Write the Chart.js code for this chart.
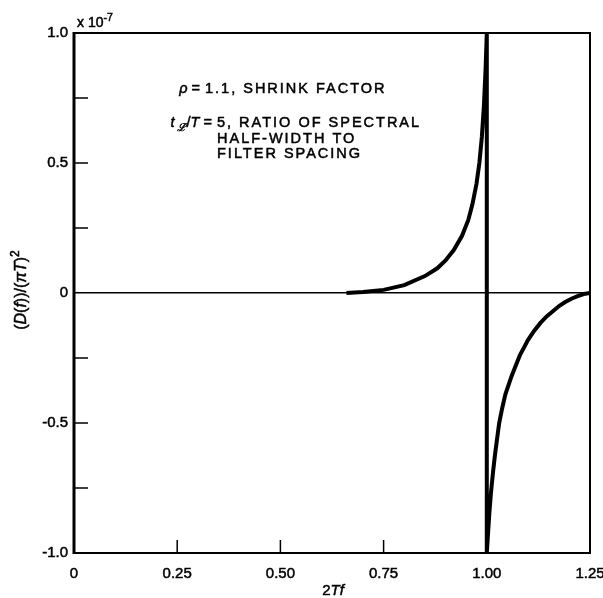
<!DOCTYPE html>
<html>
<head>
<meta charset="utf-8">
<script src="https://cdn.jsdelivr.net/npm/chart.js@4/dist/chart.umd.min.js"></script>
<style>
  html, body { margin: 0; padding: 0; background: #fff; }
  #wrap { width: 603px; height: 598px; }
</style>
</head>
<body>
<div id="wrap"><canvas id="chart" width="603" height="598"></canvas></div>
<script>
// positive branch, rising toward the pole at 2Tf = 1 (values in units of 1e-7)
const freqPos  = [0.66, 0.70, 0.75, 0.80, 0.85, 0.88, 0.90, 0.92, 0.94, 0.955, 0.965, 0.975, 0.982, 0.988, 0.993, 0.997, 1.0];
const ratioPos = [0.0, 0.004, 0.012, 0.03, 0.065, 0.095, 0.125, 0.165, 0.22, 0.28, 0.34, 0.42, 0.50, 0.60, 0.72, 0.86, 1.0];

// negative branch, recovering back to zero
const freqNeg  = [1.0, 1.002, 1.006, 1.01, 1.015, 1.02, 1.025, 1.03, 1.037, 1.045, 1.06, 1.07, 1.08, 1.09, 1.10, 1.115, 1.13, 1.145, 1.16, 1.175, 1.19, 1.205, 1.22, 1.235, 1.25];
const ratioNeg = [-1.0, -0.95, -0.85, -0.77, -0.69, -0.62, -0.56, -0.50, -0.445, -0.39, -0.32, -0.28, -0.24, -0.21, -0.18, -0.145, -0.115, -0.09, -0.07, -0.05, -0.035, -0.022, -0.012, -0.004, 0.0];

const xTicks = [0, 0.25, 0.5, 0.75, 1.0, 1.25];
const xTickLabels = ['0', '0.25', '0.50', '0.75', '1.00', '1.25'];
const yTicks = [-1, -0.5, 0, 0.5, 1];
const yTickLabels = ['-1.0', '-0.5', '0', '0.5', '1.0'];

const FONT = '"Liberation Sans", Arial, Helvetica, sans-serif';

const points = [];
freqPos.forEach((f, i) => points.push({ x: f, y: ratioPos[i] }));
freqNeg.forEach((f, i) => points.push({ x: f, y: ratioNeg[i] }));

// draw a run of text pieces (normal / italic / super / sub) anchored at x
function drawRuns(ctx, runs, x, y, size, align) {
  const fontFor = (r) => {
    const s = r.sup || r.sub ? size * 0.75 : size;
    return (r.italic ? 'italic ' : '') + s + 'px ' + FONT;
  };
  const widthOf = (r) => ctx.measureText(r.t).width + (r.gap || 0);
  let total = 0;
  runs.forEach(r => { ctx.font = fontFor(r); total += widthOf(r); });
  let cx = x;
  if (align === 'center') cx = x - total / 2;
  if (align === 'right') cx = x - total;
  runs.forEach(r => {
    ctx.font = fontFor(r);
    let dy = 0;
    if (r.sup) dy = -size * 0.45;
    if (r.sub) dy = size * 0.3;
    ctx.fillText(r.t, cx, y + dy);
    ctx.strokeText(r.t, cx, y + dy);
    cx += widthOf(r);
  });
}

const decor = {
  id: 'decor',
  afterDraw(chart) {
    const ctx = chart.ctx;
    const a = chart.chartArea;
    const xs = chart.scales.x, ys = chart.scales.y;
    ctx.save();
    ctx.strokeStyle = '#000';
    ctx.fillStyle = '#000';

    // frame
    ctx.lineWidth = 2;
    ctx.strokeRect(a.left, a.top, a.right - a.left, a.bottom - a.top);
    ctx.lineWidth = 3;
    ctx.beginPath();
    ctx.moveTo(a.left, a.top - 1);
    ctx.lineTo(a.left, a.bottom + 1);
    ctx.stroke();

    // inward tick marks
    ctx.lineWidth = 1.5;
    ctx.beginPath();
    xs.ticks.forEach(t => {
      if (t.value <= 0 || t.value >= 1.25) return;
      const px = xs.getPixelForValue(t.value);
      ctx.moveTo(px, a.bottom);
      ctx.lineTo(px, a.bottom - 13);
    });
    ys.ticks.forEach(t => {
      if (t.value <= -1 || t.value >= 1 || t.value === 0) return;
      const py = ys.getPixelForValue(t.value);
      ctx.moveTo(a.left, py);
      ctx.lineTo(a.left + 14, py);
    });
    ctx.stroke();

    ctx.textBaseline = 'alphabetic';
    ctx.textAlign = 'left';
    ctx.lineWidth = 0.5;

    // exponent above the y axis
    drawRuns(ctx, [{ t: 'x 10' }, { t: '-7', sup: true }], 77, 27, 14, 'left');

    // x axis title
    drawRuns(ctx, [{ t: '2' }, { t: 'Tf', italic: true }], 333, 595, 15, 'center');

    // y axis title
    ctx.save();
    ctx.translate(26, 290);
    ctx.rotate(-Math.PI / 2);
    drawRuns(ctx, [
      { t: '(' }, { t: 'D', italic: true }, { t: '(' }, { t: 'f', italic: true },
      { t: '))/(' }, { t: 'πT', italic: true }, { t: ')' }, { t: '2', sup: true }
    ], 0, 0, 16, 'center');
    ctx.restore();

    // annotation block: symbol part right-aligned, description left-aligned
    drawRuns(ctx, [{ t: 'ρ', italic: true }, { t: ' = ' }], 204, 93, 14.5, 'right');
    drawRuns(ctx, [
      { t: 't', italic: true, gap: 2 }, { t: 'ℒ', italic: true, sub: true, gap: 1 }, { t: '/' },
      { t: 'T', italic: true }, { t: ' = ' }
    ], 216, 127, 14.5, 'right');
    ctx.letterSpacing = '2px';
    drawRuns(ctx, [{ t: '1.1, SHRINK FACTOR' }], 205, 93, 14.5, 'left');
    drawRuns(ctx, [{ t: '5, RATIO OF SPECTRAL' }], 217, 127, 14.5, 'left');
    drawRuns(ctx, [{ t: 'HALF-WIDTH TO' }], 217, 143, 14.5, 'left');
    drawRuns(ctx, [{ t: 'FILTER SPACING' }], 217, 158, 14.5, 'left');
    ctx.restore();
  }
};

new Chart(document.getElementById('chart'), {
  type: 'scatter',
  data: {
    datasets: [{
      data: points,
      showLine: true,
      borderColor: '#000',
      borderWidth: 4,
      pointRadius: 0,
      tension: 0,
      fill: false
    }]
  },
  options: {
    responsive: false,
    animation: false,
    layout: { padding: { top: 33, right: 13, left: 0, bottom: 0 } },
    plugins: { legend: { display: false }, tooltip: { enabled: false } },
    scales: {
      x: {
        type: 'linear',
        min: 0, max: 1.25,
        grid: { display: false },
        border: { display: false },
        ticks: {
          stepSize: 0.25,
          color: '#000',
          padding: 4,
          maxRotation: 0,
          textStrokeColor: '#000',
          textStrokeWidth: 0.5,
          font: { family: FONT, size: 15 },
          callback: (v) => { const i = xTicks.indexOf(v); return i >= 0 ? xTickLabels[i] : ''; }
        },
        afterFit: (s) => { s.height = 45; s.paddingLeft = 0; s.paddingRight = 0; }
      },
      y: {
        min: -1, max: 1,
        grid: {
          drawTicks: false,
          color: (c) => (c.tick && c.tick.value === 0 ? '#000' : 'rgba(0,0,0,0)'),
          lineWidth: 1.5
        },
        border: { display: false },
        ticks: {
          stepSize: 0.25,
          color: '#000',
          padding: 6,
          textStrokeColor: '#000',
          textStrokeWidth: 0.5,
          font: { family: FONT, size: 15 },
          callback: (v) => { const i = yTicks.indexOf(v); return i >= 0 ? yTickLabels[i] : ''; }
        },
        afterFit: (s) => { s.width = 74; s.paddingTop = 0; s.paddingBottom = 0; }
      }
    }
  },
  plugins: [decor]
});
</script>
</body>
</html>
